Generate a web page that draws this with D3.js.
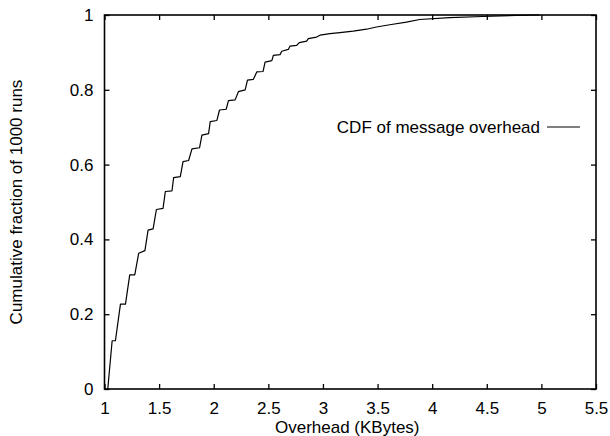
<!DOCTYPE html>
<html>
<head>
<meta charset="utf-8">
<script src="https://cdn.jsdelivr.net/npm/d3@7"></script>
<style>
  html, body { margin: 0; padding: 0; background: #fff; }
  svg { display: block; }
  text { font-family: "Liberation Sans", Arial, Helvetica, sans-serif; fill: #000; }
</style>
</head>
<body>
<svg id="chart" width="610" height="436"></svg>
<script>
// Data: corner points of the step-like CDF curve
const overheadKB = [1.030, 1.070, 1.100, 1.146, 1.192, 1.231, 1.277, 1.313, 1.370, 1.399,
  1.445, 1.475, 1.536, 1.557, 1.618, 1.633, 1.694, 1.719, 1.770, 1.801,
  1.870, 1.892, 1.953, 1.968, 2.029, 2.053, 2.114, 2.135, 2.196, 2.226,
  2.288, 2.309, 2.363, 2.395, 2.452, 2.470, 2.532, 2.546, 2.607, 2.623,
  2.683, 2.699, 2.760, 2.784, 2.851, 2.866, 2.942, 2.973, 3.064, 3.155,
  3.277, 3.399, 3.490, 3.612, 3.764, 3.886, 4.160, 4.461, 4.772, 4.982];
const cumFraction = [0.000, 0.129, 0.129, 0.227, 0.227, 0.305, 0.305, 0.363, 0.370, 0.425,
  0.428, 0.480, 0.483, 0.528, 0.530, 0.565, 0.568, 0.608, 0.611, 0.642,
  0.645, 0.679, 0.683, 0.715, 0.718, 0.746, 0.748, 0.771, 0.773, 0.795,
  0.800, 0.826, 0.828, 0.848, 0.849, 0.874, 0.878, 0.892, 0.894, 0.903,
  0.908, 0.917, 0.919, 0.926, 0.930, 0.937, 0.941, 0.946, 0.950, 0.953,
  0.957, 0.962, 0.968, 0.974, 0.981, 0.988, 0.993, 0.996, 0.999, 1.000];
const xTicks = [1, 1.5, 2, 2.5, 3, 3.5, 4, 4.5, 5, 5.5];
const yTicks = [0, 0.2, 0.4, 0.6, 0.8, 1];
const seriesName = "CDF of message overhead";
const xTitle = "Overhead (KBytes)";
const yTitle = "Cumulative fraction of 1000 runs";

const svg = d3.select("#chart");
const L = 104.5, R = 596, T = 15, B = 389;
const x = d3.scaleLinear().domain([1, 5.5]).range([L, R]);
const y = d3.scaleLinear().domain([0, 1]).range([B, T]);

const fontSize = 17;

// Bottom axis
const gB = svg.append("g").attr("transform", `translate(0,${B})`)
  .call(d3.axisBottom(x).tickValues(xTicks).tickFormat(d3.format("")).tickSize(-5).tickSizeOuter(0).tickPadding(13));
// Left axis
const gL = svg.append("g").attr("transform", `translate(${L},0)`)
  .call(d3.axisLeft(y).tickValues(yTicks).tickFormat(d3.format("")).tickSize(-5).tickSizeOuter(0).tickPadding(11));
// Top axis (ticks only)
const gT = svg.append("g").attr("transform", `translate(0,${T})`)
  .call(d3.axisTop(x).tickValues(xTicks).tickFormat("").tickSize(-5).tickSizeOuter(0));
// Right axis (ticks only)
const gR = svg.append("g").attr("transform", `translate(${R},0)`)
  .call(d3.axisRight(y).tickValues(yTicks).tickFormat("").tickSize(-5).tickSizeOuter(0));

[gB, gL, gT, gR].forEach(g => {
  g.select(".domain").remove();
  g.selectAll("line").attr("stroke", "#000").attr("stroke-width", 1.3);
  g.selectAll("text").attr("font-size", fontSize).attr("font-family", '"Liberation Sans", Arial, sans-serif').attr("fill", "#000");
});

// Frame
svg.append("rect").attr("x", L).attr("y", T).attr("width", R - L).attr("height", B - T)
  .attr("fill", "none").attr("stroke", "#000").attr("stroke-width", 1.6);

// Curve
const pts = overheadKB.map((v, i) => [v, cumFraction[i]]);
svg.append("path").datum(pts)
  .attr("fill", "none").attr("stroke", "#000").attr("stroke-width", 1.2)
  .attr("stroke-linejoin", "round")
  .attr("d", d3.line().x(d => x(d[0])).y(d => y(d[1])));

// Legend
const legY = 127;
svg.append("text").attr("x", 540).attr("y", legY).attr("dy", "0.35em")
  .attr("text-anchor", "end").attr("font-size", fontSize).text(seriesName);
svg.append("line").attr("x1", 547).attr("x2", 580).attr("y1", legY).attr("y2", legY)
  .attr("stroke", "#000").attr("stroke-width", 1.2);

// Axis titles
svg.append("text").attr("x", (L + R) / 2 - 3).attr("y", 433)
  .attr("text-anchor", "middle").attr("font-size", fontSize).text(xTitle);
svg.append("text").attr("transform", `translate(22,${(T + B) / 2}) rotate(-90)`)
  .attr("text-anchor", "middle").attr("font-size", fontSize).text(yTitle);
</script>
</body>
</html>
